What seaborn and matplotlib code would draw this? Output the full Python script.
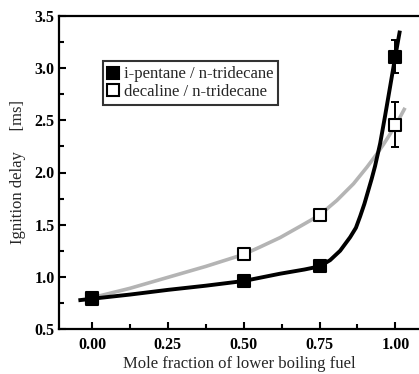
import matplotlib
matplotlib.use("Agg")
import matplotlib.pyplot as plt
import seaborn as sns
import pandas as pd
from matplotlib.lines import Line2D
from matplotlib.ticker import MultipleLocator

# measured data
x_frac = [0.00, 0.50, 0.75, 1.00]
pentane_delay = [0.79, 0.96, 1.10, 3.11]
pentane_err = [0.0, 0.0, 0.0, 0.16]
decaline_delay = [0.80, 1.215, 1.59, 2.46]
decaline_err = [0.0, 0.0, 0.0, 0.22]

# fitted curves
pentane_fit_x = [-0.045, 0.00, 0.125, 0.25, 0.375, 0.50, 0.62, 0.70, 0.75, 0.785, 0.818,
                 0.851, 0.870, 0.884, 0.898, 0.911, 0.922, 0.933, 0.950, 0.966, 0.982,
                 0.999, 1.015]
pentane_fit_y = [0.775, 0.79, 0.83, 0.875, 0.915, 0.96, 1.03, 1.07, 1.10, 1.16, 1.25,
                 1.38, 1.47, 1.58, 1.70, 1.83, 1.94, 2.06, 2.28, 2.54, 2.81,
                 3.10, 3.36]
decaline_fit_x = [0.00, 0.125, 0.25, 0.375, 0.50, 0.554, 0.62, 0.686, 0.749, 0.807, 0.862,
                  0.906, 0.939, 0.961, 0.983, 1.008, 1.032]
decaline_fit_y = [0.80, 0.89, 0.995, 1.10, 1.215, 1.286, 1.376, 1.484, 1.589, 1.732, 1.892,
                  2.05, 2.178, 2.27, 2.37, 2.49, 2.62]

legend_labels = ["i-pentane / n-tridecane", "decaline / n-tridecane"]

sns.set_theme(style="ticks")
plt.rcParams["font.family"] = ["Liberation Serif", "DejaVu Serif"]

fig = plt.figure(figsize=(4.19, 3.74), dpi=100)
ax = fig.add_axes([59 / 419, 45 / 374, 360 / 419, 313 / 374])

df_pf = pd.DataFrame({"x": pentane_fit_x, "y": pentane_fit_y})
df_df = pd.DataFrame({"x": decaline_fit_x, "y": decaline_fit_y})
sns.lineplot(data=df_df, x="x", y="y", ax=ax, color="#b4b4b4", lw=2.6, sort=False, zorder=2,
             solid_joinstyle="round", solid_capstyle="butt")
sns.lineplot(data=df_pf, x="x", y="y", ax=ax, color="black", lw=2.8, sort=False, zorder=3,
             solid_joinstyle="round", solid_capstyle="butt")

ax.errorbar(x_frac[3], pentane_delay[3], yerr=pentane_err[3], fmt="none", ecolor="black",
            elinewidth=1.4, capsize=3, capthick=1.4, zorder=4)
ax.errorbar(x_frac[3], decaline_delay[3], yerr=decaline_err[3], fmt="none", ecolor="black",
            elinewidth=1.4, capsize=3, capthick=1.4, zorder=4)

df_p = pd.DataFrame({"x": x_frac, "y": pentane_delay})
df_d = pd.DataFrame({"x": x_frac, "y": decaline_delay})
sns.scatterplot(data=df_d, x="x", y="y", ax=ax, marker="s", s=80, color="white",
                edgecolor="black", linewidth=1.5, zorder=5)
sns.scatterplot(data=df_p, x="x", y="y", ax=ax, marker="s", s=80, color="black",
                edgecolor="black", linewidth=1.5, zorder=6)

ax.set_xlim(-0.109, 1.078)
ax.set_ylim(0.5, 3.5)
ax.xaxis.set_minor_locator(MultipleLocator(0.125))
ax.yaxis.set_minor_locator(MultipleLocator(0.25))
ax.set_xticks([0, 0.25, 0.5, 0.75, 1.0])
ax.set_xticklabels(["0.00", "0.25", "0.50", "0.75", "1.00"])
ax.set_yticks([0.5, 1.0, 1.5, 2.0, 2.5, 3.0, 3.5])
ax.set_yticklabels(["0.5", "1.0", "1.5", "2.0", "2.5", "3.0", "3.5"])
ax.tick_params(which="both", direction="in", width=1.5, colors="black", labelsize=11.5)
ax.tick_params(which="major", length=5)
ax.tick_params(which="minor", length=3.5)
for lab in ax.get_xticklabels() + ax.get_yticklabels():
    lab.set_fontweight("bold")
ax.tick_params(axis="x", pad=6)
ax.tick_params(axis="y", pad=3)

for side in ["left", "bottom", "top"]:
    ax.spines[side].set_linewidth(1.6)
    ax.spines[side].set_color("black")
ax.spines["right"].set_visible(False)

ax.set_xlabel("Mole fraction of lower boiling fuel", fontsize=12, labelpad=2)
ax.set_ylabel("Ignition delay     [ms]", fontsize=12, labelpad=6)

handles = [
    Line2D([], [], marker="s", linestyle="none", markersize=8, markerfacecolor="black",
           markeredgecolor="black", markeredgewidth=1.5),
    Line2D([], [], marker="s", linestyle="none", markersize=8, markerfacecolor="white",
           markeredgecolor="black", markeredgewidth=1.5),
]
leg = ax.legend(handles, legend_labels, loc="upper left", bbox_to_anchor=(0.122, 0.855),
                fontsize=12, frameon=True, fancybox=False, handlelength=0.6,
                handletextpad=0.35, borderpad=0.3, labelspacing=0.1, borderaxespad=0)
leg.get_frame().set_edgecolor("black")
leg.get_frame().set_linewidth(1.5)

fig.savefig("out.png", dpi=100)
